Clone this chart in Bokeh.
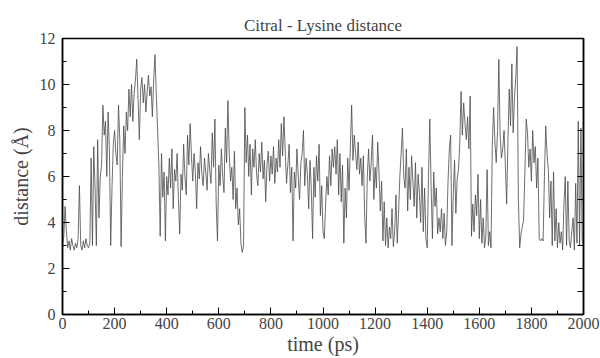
import numpy as np
from bokeh.plotting import figure
from bokeh.models import Range1d, LinearAxis, FixedTicker
from bokeh.embed import file_html
from bokeh.resources import INLINE

# time step of the trajectory samples (ps)
dt = 5
distance = [
    3.0, 3.4, 4.7, 3.6, 2.9, 3.2, 2.8, 3.3, 3.0, 2.8,
    3.1, 2.9, 3.3, 5.6, 3.0, 2.8, 3.2, 2.9, 3.3, 3.0,
    2.9, 3.1, 6.8, 3.0, 7.3, 5.5, 3.0, 7.6, 4.2, 6.0,
    6.5, 9.1, 7.8, 8.4, 6.0, 8.8, 7.2, 3.0, 5.5, 7.4,
    8.0, 7.0, 6.5, 9.1, 7.6, 2.95, 6.0, 8.2, 7.0, 8.8,
    8.0, 9.8, 8.6, 10.0, 8.4, 9.6, 10.2, 11.1, 9.4, 7.6,
    9.8, 10.3, 9.2, 10.0, 8.8, 9.7, 10.4, 9.5, 9.9, 8.6,
    10.2, 11.3, 9.6, 8.0, 6.5, 3.4, 7.0, 5.1, 6.2, 3.2,
    6.0, 5.2, 6.8, 5.5, 7.2, 4.6, 6.3, 5.8, 7.0, 5.0,
    3.5, 6.1, 5.4, 7.4, 6.0, 5.2, 7.8, 6.5, 8.3, 6.9,
    5.8, 7.0, 6.2, 4.6, 6.6, 5.9, 7.3, 6.1, 5.6, 6.8,
    6.2, 5.4, 7.0, 6.3, 5.7, 7.9, 6.4, 8.5, 4.8, 3.2,
    6.5, 5.6, 7.2, 6.0, 5.3, 8.1, 6.6, 9.3, 7.0, 5.8,
    6.4, 5.0, 7.1, 4.6, 5.5, 3.9, 4.6, 3.1, 2.7, 3.0,
    9.0, 6.6, 7.8, 6.0, 7.4, 5.2, 7.2, 6.4, 7.6, 6.1,
    5.6, 7.0, 6.2, 7.5, 5.9, 6.7, 4.9, 6.5, 7.1, 5.8,
    6.9, 6.1, 7.3, 5.7, 6.8, 6.2, 7.6, 6.4, 8.3, 6.9,
    8.6, 7.1, 5.7, 6.5, 7.4, 5.3, 6.4, 3.2, 6.2, 5.5,
    7.2, 6.0, 5.0, 6.6, 7.0, 8.0, 5.6, 6.8, 6.1, 4.6,
    6.7, 5.5, 3.3, 6.4, 5.1, 6.9, 5.8, 7.4, 4.3, 5.6,
    3.6, 3.3, 4.8, 6.0, 5.2, 6.9, 5.6, 7.2, 6.4, 7.3,
    6.1, 7.6, 5.2, 7.0, 4.9, 6.5, 3.1, 5.5, 4.2, 6.8,
    5.4, 7.3, 9.1, 6.7, 7.8, 7.0, 6.3, 7.5, 6.1, 6.8,
    5.6, 6.9, 4.3, 3.1, 6.0, 7.2, 5.8, 6.6, 7.8, 5.0,
    6.4, 5.5, 7.5, 6.2, 4.5, 5.8, 3.2, 4.9, 3.0, 4.2,
    2.9, 3.8, 3.3, 4.6, 2.95, 3.6, 5.2, 3.1, 4.4, 6.0,
    7.0, 8.1, 6.0, 5.5, 7.2, 4.5, 6.4, 5.0, 6.9, 5.8,
    4.7, 6.6, 4.2, 6.1, 5.3, 4.0, 6.4, 3.6, 5.5, 3.3,
    2.9, 6.0, 8.5, 5.6, 3.3, 6.2, 4.7, 5.5, 3.5, 4.2,
    3.6, 4.6, 3.3, 4.4, 3.0, 3.6, 5.8, 7.2, 7.8, 3.0,
    5.2, 6.7, 4.4, 5.9, 6.3, 7.4, 9.7, 7.8, 9.2, 8.3,
    7.6, 8.6, 7.2, 9.5, 3.4, 4.8, 3.6, 5.2, 4.3, 6.1,
    3.3, 5.0, 3.1, 4.2, 2.9, 3.4, 6.3, 3.0, 3.6, 2.9,
    7.4, 9.0, 7.5, 6.6, 8.0, 11.1, 7.8, 6.8, 7.2, 8.0,
    6.5, 4.8, 7.6, 9.8, 8.2, 10.9, 7.9, 9.4, 10.3, 11.65,
    5.0, 2.9, 3.5, 3.8, 4.1, 6.2, 8.5, 7.9, 6.4, 7.2,
    5.8, 8.0, 6.6, 7.3, 5.5, 6.8, 3.3, 3.2, 3.3, 3.2,
    6.0, 8.2, 7.0, 6.3, 4.2, 5.8, 3.0, 6.2, 3.2, 4.6,
    2.9, 4.0, 3.1, 3.6, 2.8, 4.8, 6.0, 3.0, 5.8, 3.2,
    2.9, 3.6, 4.2, 2.8, 5.7, 3.1, 8.4, 3.0, 8.1, 3.2,
    3.0,
]
time = [i * dt for i in range(len(distance))]

x_ticks = list(range(0, 2001, 200))
x_minor = list(range(0, 2001, 100))
y_ticks = list(range(0, 13, 2))
y_minor = list(range(0, 13, 1))

FONT = "Liberation Serif"

p = figure(width=600, height=358, output_backend="svg", toolbar_location=None,
           x_range=Range1d(0, 2000), y_range=Range1d(0, 12),
           min_border_left=62, min_border_right=17, min_border_top=38,
           min_border_bottom=44, title="Citral - Lysine distance")
p.title.align = "center"
p.title.text_font = FONT
p.title.text_font_size = "17px"
p.title.text_font_style = "normal"
p.title.standoff = 7

p.line(time, distance, line_color="#4a4a4a", line_width=0.8)

p.grid.visible = False
p.outline_line_color = "black"
p.outline_line_width = 1.5

for ax in (p.xaxis[0], p.yaxis[0]):
    ax.major_tick_in = 7
    ax.major_tick_out = 0
    ax.minor_tick_in = 4
    ax.minor_tick_out = 0
    ax.axis_line_color = "black"
    ax.axis_line_width = 1.5
    ax.major_label_text_font = FONT
    ax.major_label_text_font_size = "16px"
    ax.axis_label_text_font = FONT
    ax.axis_label_text_font_size = "20px"
    ax.axis_label_text_font_style = "normal"

p.xaxis[0].ticker = FixedTicker(ticks=x_ticks, minor_ticks=x_minor)
p.yaxis[0].ticker = FixedTicker(ticks=y_ticks, minor_ticks=y_minor)
p.xaxis[0].axis_label = "time (ps)"
p.yaxis[0].axis_label = "distance (Å)"
p.xaxis[0].major_label_standoff = 3
p.xaxis[0].axis_label_standoff = 1
p.yaxis[0].major_label_standoff = 7
p.yaxis[0].axis_label_standoff = 5

rax = LinearAxis(ticker=FixedTicker(ticks=y_minor, minor_ticks=[]),
                 major_label_overrides={v: "" for v in y_minor},
                 major_tick_in=6, major_tick_out=0, axis_line_color="black",
                 axis_line_width=1.5)
p.add_layout(rax, "right")

open("out.html", "w").write(file_html(p, INLINE))
